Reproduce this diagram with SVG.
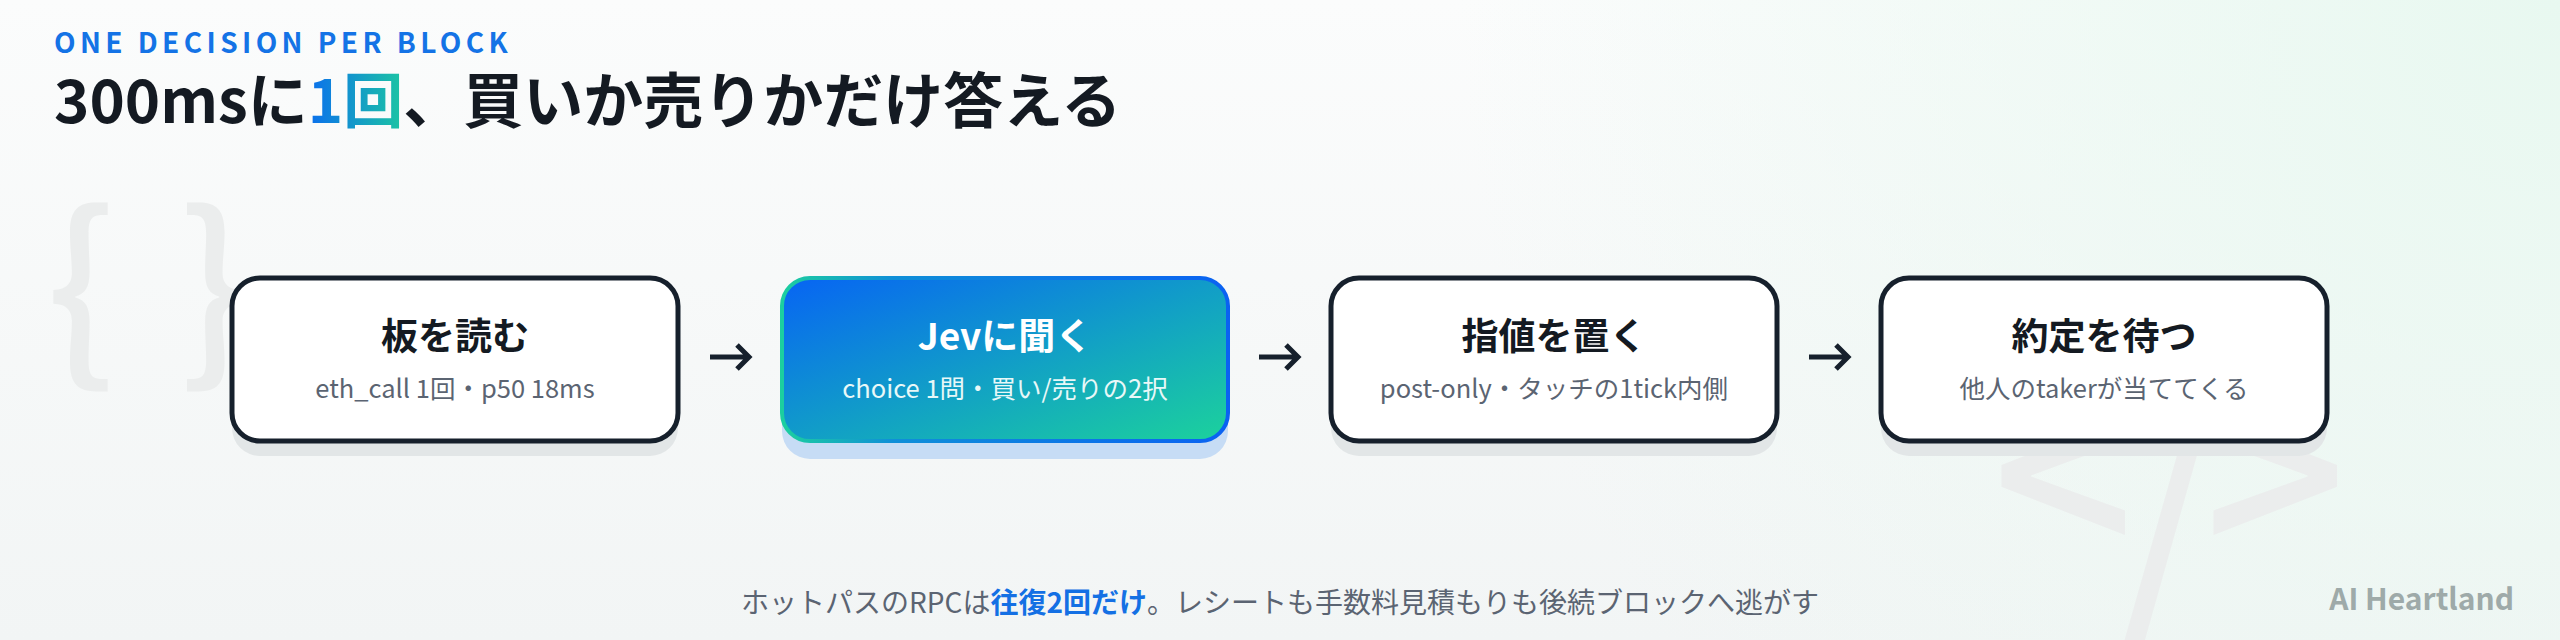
<svg xmlns="http://www.w3.org/2000/svg" width="2560" height="640" viewBox="0 0 2560 640">
  <defs>
    <linearGradient id="bg" x1="0" y1="0" x2="0" y2="1">
      <stop offset="0" stop-color="#fbfcfc"/>
      <stop offset="1" stop-color="#f2f5f5"/>
    </linearGradient>
    <radialGradient id="mint" cx="2560" cy="0" r="1100" gradientUnits="userSpaceOnUse">
      <stop offset="0" stop-color="#e8f8f0" stop-opacity="1"/>
      <stop offset="1" stop-color="#e8f8f0" stop-opacity="0"/>
    </radialGradient>
    <linearGradient id="hl" x1="305" y1="0" x2="402" y2="0" gradientUnits="userSpaceOnUse">
      <stop offset="0" stop-color="#0a6cf0"/>
      <stop offset="1" stop-color="#1cc4a4"/>
    </linearGradient>
    <linearGradient id="jevFill" x1="0" y1="0" x2="1" y2="1">
      <stop offset="0" stop-color="#0764f4"/>
      <stop offset="0.55" stop-color="#12a2c4"/>
      <stop offset="1" stop-color="#1cd29c"/>
    </linearGradient>
    <linearGradient id="jevStroke" x1="0" y1="0" x2="1" y2="0">
      <stop offset="0" stop-color="#1ccf9f"/>
      <stop offset="0.25" stop-color="#0f8fd8"/>
      <stop offset="1" stop-color="#0a62f2"/>
    </linearGradient>
    <style>
      .sans { font-family: "Noto Sans CJK JP", "Noto Sans", sans-serif; }
      .shadow { fill: #e2e6e7; }
      .box { fill: #ffffff; stroke: #16202c; stroke-width: 5; }
      .ttl { font-family: "Noto Sans CJK JP", "Noto Sans", sans-serif; font-size: 37px; font-weight: 700; fill: #141a22; text-anchor: middle; }
      .sub { font-family: "Noto Sans CJK JP", "Noto Sans", sans-serif; font-size: 25.5px; font-weight: 400; fill: #5b6472; text-anchor: middle; }
      .arrow { fill: none; stroke: #16202c; stroke-width: 5; }
      .wm { fill: #ebeded; font-family: "Noto Sans CJK JP", "Noto Sans", sans-serif; }
    </style>
  </defs>

  <rect x="0" y="0" width="2560" height="640" fill="url(#bg)"/>
  <rect x="0" y="0" width="2560" height="640" fill="url(#mint)"/>

  <!-- watermarks -->
  <text class="wm" x="46" y="358" font-size="195" font-weight="500" letter-spacing="10">{ }</text>
  <text class="wm" x="1992" y="569" font-size="250" font-weight="500" letter-spacing="-14">&lt;<tspan dy="30">/</tspan><tspan dy="-30">&gt;</tspan></text>

  <!-- header -->
  <text class="sans" x="54" y="53" font-size="28" font-weight="700" fill="#1473e6" letter-spacing="4.4">ONE DECISION PER BLOCK</text>
  <text class="sans" x="54" y="123" font-size="60" font-weight="700" fill="#141a22">300msに<tspan fill="url(#hl)">1回</tspan>、買いか売りかだけ答える</text>

  <!-- connectors -->
  <g id="connectors">
    <path class="arrow" d="M710,357 H748 M737,345 L749,357 L737,369"/>
    <path class="arrow" d="M1259,357 H1297 M1286,345 L1298,357 L1286,369"/>
    <path class="arrow" d="M1809,357 H1847 M1836,345 L1848,357 L1836,369"/>
  </g>

  <g id="node-read">
    <rect class="shadow" x="232" y="293" width="446" height="163" rx="28"/>
    <rect class="box" x="232" y="278" width="446" height="163" rx="28"/>
    <text class="ttl" x="455" y="350">板を読む</text>
    <text class="sub" x="455" y="398">eth_call 1回・p50 18ms</text>
  </g>

  <g id="node-jev">
    <rect x="782" y="296" width="446" height="163" rx="28" fill="#c6dcf5"/>
    <rect x="782" y="278" width="446" height="163" rx="28" fill="url(#jevFill)" stroke="url(#jevStroke)" stroke-width="4"/>
    <text class="ttl" x="1005" y="350" style="fill:#ffffff">Jevに聞く</text>
    <text class="sub" x="1005" y="398" style="fill:#e8f8f8">choice 1問・買い/売りの2択</text>
  </g>

  <g id="node-place">
    <rect class="shadow" x="1331" y="293" width="446" height="163" rx="28"/>
    <rect class="box" x="1331" y="278" width="446" height="163" rx="28"/>
    <text class="ttl" x="1554" y="350">指値を置く</text>
    <text class="sub" x="1554" y="398">post-only・タッチの1tick内側</text>
  </g>

  <g id="node-wait">
    <rect class="shadow" x="1881" y="293" width="446" height="163" rx="28"/>
    <rect class="box" x="1881" y="278" width="446" height="163" rx="28"/>
    <text class="ttl" x="2104" y="350">約定を待つ</text>
    <text class="sub" x="2104" y="398">他人のtakerが当ててくる</text>
  </g>

  <!-- footer -->
  <text class="sans" x="1280" y="613" font-size="28" fill="#5b6472" text-anchor="middle">ホットパスのRPCは<tspan font-weight="700" fill="#1470e4">往復2回だけ</tspan>。レシートも手数料見積もりも後続ブロックへ逃がす</text>
  <text class="sans" x="2514" y="610" font-size="30" font-weight="700" fill="#9eaaa9" text-anchor="end">AI Heartland</text>
</svg>
